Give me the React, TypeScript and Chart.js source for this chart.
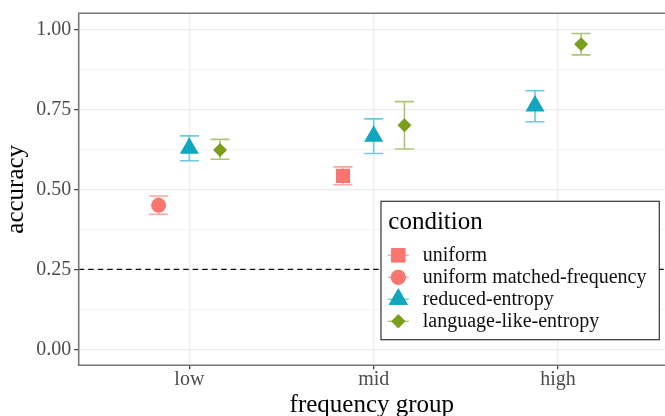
import React, { useEffect, useRef } from 'react';
import { Chart, registerables } from 'chart.js';
import { drawPoint } from 'chart.js/helpers';

Chart.register(...registerables);

// ---- data ----
const CATEGORIES = ['low', 'mid', 'high'];
const CONDITIONS = ['uniform', 'uniform matched-frequency', 'reduced-entropy', 'language-like-entropy'];

const UNIFORM_MEAN = [null, 0.542, null];
const UNIFORM_LOW = [null, 0.514, null];
const UNIFORM_HIGH = [null, 0.570, null];

const MATCHED_MEAN = [0.450, null, null];
const MATCHED_LOW = [0.422, null, null];
const MATCHED_HIGH = [0.479, null, null];

const REDUCED_MEAN = [0.628, 0.666, 0.760];
const REDUCED_LOW = [0.589, 0.612, 0.711];
const REDUCED_HIGH = [0.667, 0.720, 0.808];

const LANGUAGE_MEAN = [0.623, 0.700, 0.953];
const LANGUAGE_LOW = [0.594, 0.626, 0.920];
const LANGUAGE_HIGH = [0.656, 0.774, 0.987];

const CHANCE_LEVEL = 0.25;
const Y_MAJOR_TICKS = [0, 0.25, 0.5, 0.75, 1];
const Y_MINOR_TICKS = [0.125, 0.375, 0.625, 0.875];

const MEANS = [UNIFORM_MEAN, MATCHED_MEAN, REDUCED_MEAN, LANGUAGE_MEAN];
const LOWS = [UNIFORM_LOW, MATCHED_LOW, REDUCED_LOW, LANGUAGE_LOW];
const HIGHS = [UNIFORM_HIGH, MATCHED_HIGH, REDUCED_HIGH, LANGUAGE_HIGH];

// ---- styles ----
const FONT = "'Liberation Serif', 'DejaVu Serif', serif";
const COLORS = ['#F8766D', '#F8766D', '#0FA6BF', '#7A9F1B'];
const ERR_COLORS = ['#F9A9A2', '#F9A9A2', '#6FCAD9', '#AFC576'];
const SHAPES = ['rect', 'circle', 'triangle', 'rectRot'];
const RADII = [10, 7.5, 11, 7];
const DODGE_WIDTH = 0.5;

function dodgeOffset(cond: number, cat: number) {
  const present = MEANS.map((m, i) => (m[cat] != null ? i : -1)).filter((i) => i >= 0);
  const n = present.length;
  const k = present.indexOf(cond);
  return (DODGE_WIDTH * (k - (n - 1) / 2)) / n;
}

const isMinor = (v: number) => Y_MINOR_TICKS.some((m) => Math.abs(m - v) < 1e-9);

const datasets = CONDITIONS.map((label, i) => {
  const pts: { x: number; y: number }[] = [];
  const lo: number[] = [];
  const hi: number[] = [];
  CATEGORIES.forEach((_, j) => {
    const v = MEANS[i][j];
    if (v != null) {
      pts.push({ x: j + 1 + dodgeOffset(i, j), y: v });
      lo.push(LOWS[i][j] as number);
      hi.push(HIGHS[i][j] as number);
    }
  });
  return {
    label,
    data: pts,
    errLow: lo,
    errHigh: hi,
    errColor: ERR_COLORS[i],
    pointStyle: SHAPES[i],
    pointRadius: RADII[i],
    pointHoverRadius: RADII[i],
    backgroundColor: COLORS[i],
    borderColor: COLORS[i],
    borderWidth: 0,
    showLine: false,
  };
});

const chancePlugin = {
  id: 'chance',
  beforeDatasetsDraw(chart: any) {
    const { ctx, chartArea } = chart;
    const y = chart.scales.y.getPixelForValue(CHANCE_LEVEL);
    ctx.save();
    ctx.strokeStyle = '#111';
    ctx.lineWidth = 1.2;
    ctx.setLineDash([5.5, 4]);
    ctx.beginPath();
    ctx.moveTo(chartArea.left, y);
    ctx.lineTo(chartArea.right, y);
    ctx.stroke();
    ctx.restore();
  },
};

const errorBarPlugin = {
  id: 'errorBars',
  beforeDatasetsDraw(chart: any) {
    const { ctx } = chart;
    const ys = chart.scales.y;
    const cap = 9.5;
    ctx.save();
    chart.data.datasets.forEach((ds: any, i: number) => {
      const meta = chart.getDatasetMeta(i);
      meta.data.forEach((el: any, j: number) => {
        const x = el.x;
        const yl = ys.getPixelForValue(ds.errLow[j]);
        const yh = ys.getPixelForValue(ds.errHigh[j]);
        ctx.strokeStyle = ds.errColor;
        ctx.lineWidth = 1.6;
        ctx.beginPath();
        ctx.moveTo(x, yl);
        ctx.lineTo(x, yh);
        ctx.moveTo(x - cap, yl);
        ctx.lineTo(x + cap, yl);
        ctx.moveTo(x - cap, yh);
        ctx.lineTo(x + cap, yh);
        ctx.stroke();
      });
    });
    ctx.restore();
  },
};

const borderPlugin = {
  id: 'panelBorder',
  afterDatasetsDraw(chart: any) {
    const { ctx, chartArea } = chart;
    ctx.save();
    ctx.strokeStyle = '#777';
    ctx.lineWidth = 1.6;
    ctx.beginPath();
    ctx.moveTo(chartArea.right + 5, chartArea.top);
    ctx.lineTo(chartArea.left, chartArea.top);
    ctx.lineTo(chartArea.left, chartArea.bottom);
    ctx.lineTo(chartArea.right + 5, chartArea.bottom);
    ctx.stroke();
    ctx.restore();
  },
};

const legendPlugin = {
  id: 'ggLegend',
  afterDraw(chart: any) {
    const { ctx } = chart;
    const x0 = 381;
    const y0 = 201.3;
    const w = 278.3;
    const h = 138.4;
    ctx.save();
    ctx.fillStyle = '#fff';
    ctx.fillRect(x0, y0, w, h);
    ctx.strokeStyle = '#333';
    ctx.lineWidth = 1.2;
    ctx.strokeRect(x0, y0, w, h);
    ctx.fillStyle = '#000';
    ctx.textBaseline = 'alphabetic';
    ctx.textAlign = 'left';
    ctx.font = `25px ${FONT}`;
    ctx.fillText('condition', 388.3, 229);
    chart.data.datasets.forEach((ds: any, i: number) => {
      const cy = 255.3 + 22 * i;
      const cx = 398.3;
      ctx.strokeStyle = ds.errColor;
      ctx.lineWidth = 1.4;
      ctx.beginPath();
      ctx.moveTo(cx - 10.5, cy);
      ctx.lineTo(cx + 10.5, cy);
      ctx.stroke();
      ctx.fillStyle = ds.backgroundColor;
      drawPoint(ctx, { pointStyle: ds.pointStyle, radius: ds.pointRadius, borderWidth: 0, rotation: 0 } as any, cx, cy);
      ctx.fill();
      ctx.fillStyle = '#111';
      ctx.font = `20px ${FONT}`;
      ctx.fillText(ds.label, 422.7, 261.3 + 22 * i);
    });
    ctx.restore();
  },
};

const config: any = {
  type: 'scatter',
  data: { datasets },
  options: {
    animation: false,
    responsive: false,
    devicePixelRatio: 1,
    events: [],
    layout: { autoPadding: false, padding: { left: 0, right: 0, top: 13.3, bottom: 0 } },
    plugins: { legend: { display: false }, tooltip: { enabled: false } },
    scales: {
      x: {
        type: 'linear',
        min: 0.4,
        max: 3.58,
        afterBuildTicks: (scale: any) => {
          scale.ticks = CATEGORIES.map((_, i) => ({ value: i + 1 }));
        },
        afterFit: (scale: any) => {
          scale.height = 50.7;
          scale.paddingLeft = 0;
          scale.paddingRight = 0;
        },
        ticks: {
          autoSkip: false,
          maxRotation: 0,
          padding: 0,
          color: '#4D4D4D',
          font: { family: FONT, size: 20, lineHeight: 1 },
          callback: (v: number) => CATEGORIES[Math.round(v) - 1] ?? '',
        },
        grid: {
          color: '#EBEBEB',
          lineWidth: 1.3,
          tickColor: '#333',
          tickLength: 4,
          tickWidth: 1.2,
        },
        border: { display: false },
        title: {
          display: true,
          text: 'frequency group',
          color: '#000',
          font: { family: FONT, size: 25, lineHeight: 1 },
          padding: { top: 0, bottom: -2 },
        },
      },
      y: {
        type: 'linear',
        min: -0.05,
        max: 1.05,
        afterBuildTicks: (scale: any) => {
          scale.ticks = [...Y_MAJOR_TICKS, ...Y_MINOR_TICKS].sort((a, b) => a - b).map((v) => ({ value: v }));
        },
        afterFit: (scale: any) => {
          scale.width = 78.7;
          scale.paddingTop = 0;
          scale.paddingBottom = 0;
        },
        ticks: {
          autoSkip: false,
          padding: 3,
          color: '#4D4D4D',
          font: { family: FONT, size: 20 },
          callback: (v: number) => (isMinor(v) ? '' : v.toFixed(2)),
        },
        grid: {
          color: (c: any) => (isMinor(c.tick.value) ? '#F3F3F3' : '#EBEBEB'),
          lineWidth: (c: any) => (isMinor(c.tick.value) ? 1 : 1.3),
          tickColor: (c: any) => (isMinor(c.tick.value) ? 'rgba(0,0,0,0)' : '#333'),
          tickLength: 4.5,
          tickWidth: 1.2,
        },
        border: { display: false },
        title: {
          display: true,
          text: 'accuracy',
          color: '#000',
          font: { family: FONT, size: 25, lineHeight: 1.2 },
          padding: { top: 1, bottom: 0 },
        },
      },
    },
  },
  plugins: [chancePlugin, errorBarPlugin, borderPlugin, legendPlugin],
};

export default function App() {
  const ref = useRef<HTMLCanvasElement>(null);
  useEffect(() => {
    document.body.style.margin = '0';
    const chart = new Chart(ref.current as HTMLCanvasElement, config);
    return () => chart.destroy();
  }, []);
  return (
    <div style={{ position: 'absolute', left: 0, top: 0, width: 665, height: 416, background: '#fff' }}>
      <canvas ref={ref} width={665} height={416} style={{ display: 'block', width: 665, height: 416 }} />
    </div>
  );
}
